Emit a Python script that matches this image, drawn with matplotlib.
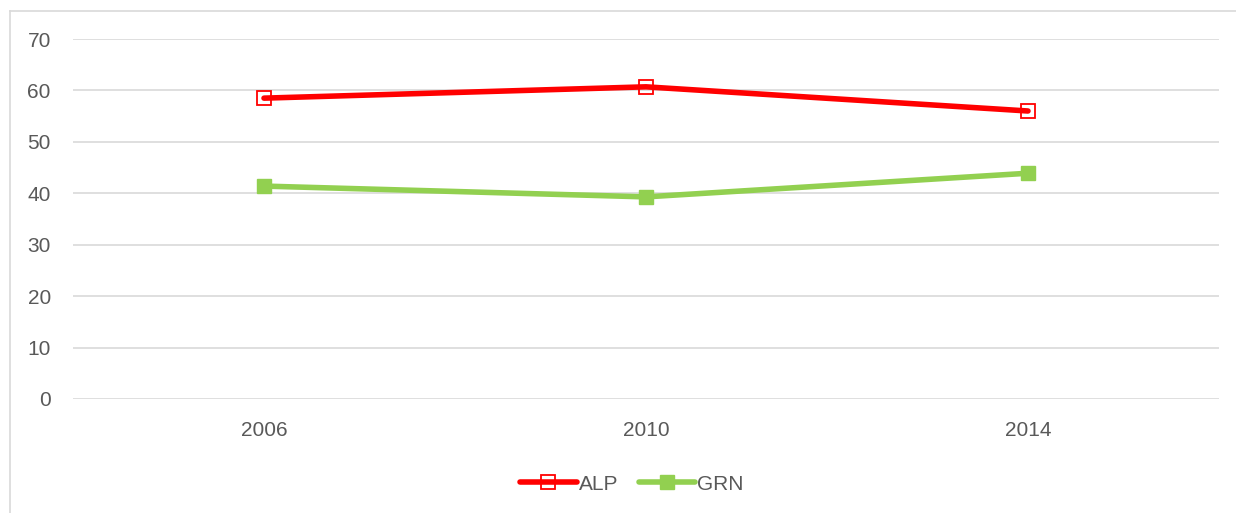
import matplotlib.pyplot as plt
from matplotlib.lines import Line2D

plt.rcParams['font.family'] = ['Liberation Sans', 'DejaVu Sans']

# data
years = ['2006', '2010', '2014']
alp = [58.5, 60.7, 56.0]
grn = [41.4, 39.3, 43.9]

W, H = 1236, 513
fig = plt.figure(figsize=(W / 100, H / 100), dpi=100)
ax = fig.add_axes([73 / W, 1 - 399 / H, (1219 - 73) / W, (399 - 39) / H])

x = range(len(years))
ax.plot(x, alp, color='#ff0000', lw=4, solid_capstyle='round',
        marker='s', ms=10, mfc='none', mec='#ff0000', mew=1.3, label='ALP', zorder=3)
ax.plot(x, grn, color='#92d050', lw=4, solid_capstyle='round',
        marker='s', ms=10, mfc='#92d050', mec='#92d050', label='GRN', zorder=3)

ax.set_xlim(-0.5, 2.5)
ax.set_ylim(0, 70)
ax.set_yticks(range(0, 71, 10))
ax.set_xticks(list(x))
ax.set_xticklabels(years)
ax.grid(axis='y', color='#d9d9d9', lw=1.2)
ax.set_axisbelow(True)
for s in ax.spines.values():
    s.set_visible(False)
ax.tick_params(length=0, labelsize=15, labelcolor='#595959', pad=16)

leg = fig.legend(loc='center', bbox_to_anchor=(632 / W, 1 - 484 / H), ncol=2, frameon=False,
                 fontsize=15, handlelength=2.7, handletextpad=0.1, columnspacing=1.0)
for t in leg.get_texts():
    t.set_color('#595959')

# chart border (only left and top visible in the crop)
fig.add_artist(Line2D([9.5 / W, 9.5 / W], [0, 1 - 10.5 / H], transform=fig.transFigure,
                      color='#d9d9d9', lw=1.2))
fig.add_artist(Line2D([9.5 / W, 1], [1 - 10.5 / H, 1 - 10.5 / H], transform=fig.transFigure,
                      color='#d9d9d9', lw=1.2))

fig.savefig('out.png', dpi=100)
